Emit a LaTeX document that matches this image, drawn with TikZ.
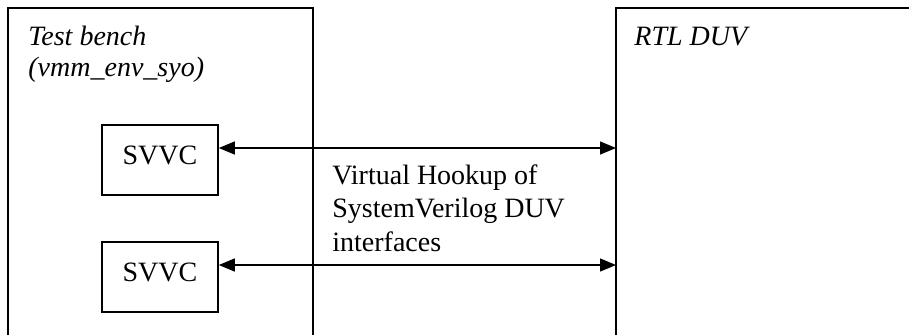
\documentclass[tikz,border=0pt]{standalone}
\usepackage{fontspec}
\setmainfont{Liberation Serif}
\usetikzlibrary{arrows.meta}
\begin{document}
\begin{tikzpicture}[x=0.5pt,y=-0.5pt,
  frame/.style={draw=black,line width=0.8pt},
  unitbox/.style={draw=black,line width=0.8pt,minimum width=58pt,minimum height=35pt,
    inner sep=0pt,text depth=5pt,font=\fontsize{14}{16}\selectfont},
  headtext/.style={anchor=base west,inner sep=0pt,font=\fontsize{14}{16}\selectfont\itshape},
  bodytext/.style={anchor=base west,inner sep=0pt,font=\fontsize{14}{16}\selectfont},
  link/.style={{Triangle[length=8pt,width=6.5pt]}-{Triangle[length=8pt,width=6.5pt]},line width=0.65pt}]
\useasboundingbox (0,0) rectangle (909,334);
% test bench enclosure, open at the bottom
\draw[frame] (8,340) |- (313,8) -- (313,340);
% DUV enclosure, open at the bottom and right
\draw[frame] (616,340) |- (920,8);
\coordinate (duvedge) at (616,0);
% headings
\node[headtext] (tb1) at (28,45) {Test bench};
\node[headtext] (tb2) at (28,76) {(vmm\_env\_syo)};
\node[headtext] (duv) at (634,45) {RTL DUV};
% verification components
\node[unitbox] (svvc1) at (160,160) {SVVC};
\node[unitbox] (svvc2) at (160,277) {SVVC};
% hookups
\draw[link] (svvc1.east |- 0,148) coordinate (h1) -- (h1 -| duvedge);
\draw[link] (svvc2.east |- 0,265) coordinate (h2) -- (h2 -| duvedge);
% hookup caption
\node[bodytext] (c1) at (332,184) {Virtual Hookup of};
\node[bodytext] (c2) at (332,217) {SystemVerilog DUV};
\node[bodytext] (c3) at (332,251) {interfaces};
\end{tikzpicture}
\end{document}
